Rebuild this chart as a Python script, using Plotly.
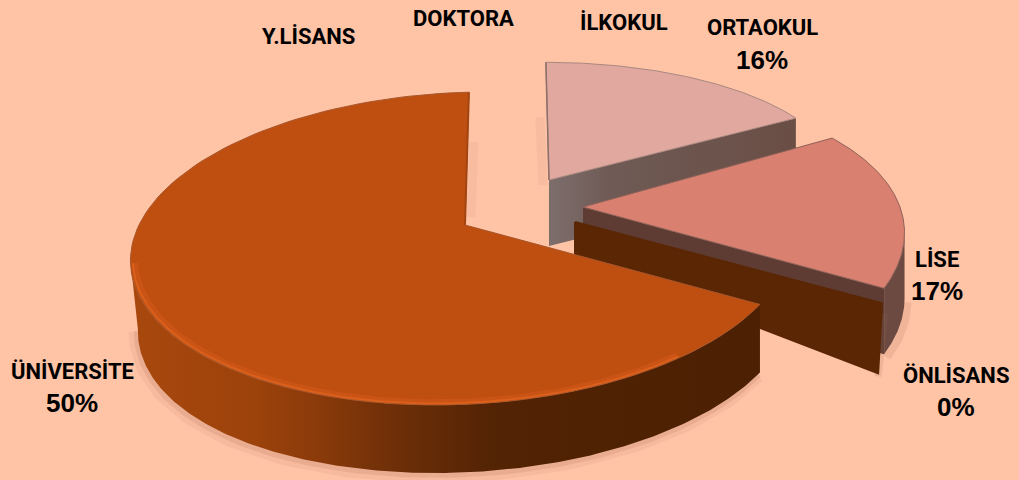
import numpy as np
import plotly.graph_objects as go

# ---- data ----
categories = ["ORTAOKUL", "LİSE", "ÖNLİSANS", "ÜNİVERSİTE", "Y.LİSANS", "DOKTORA", "İLKOKUL"]
printed_percent = ["16%", "17%", "0%", "50%", "", "", ""]
# angular share each slice occupies in the drawing (the big slice is drawn wider than its printed label)
drawn_share = [16, 17, 0, 66, 0, 0, 0]

# ---- style / layout ----
BG = "#FFC3A6"
label_name_xy = {"ORTAOKUL": (762, 27), "LİSE": (937, 259), "ÖNLİSANS": (956, 375),
                 "ÜNİVERSİTE": (72, 371), "Y.LİSANS": (308, 36), "DOKTORA": (463, 18), "İLKOKUL": (624, 22)}
label_pct_xy = {"ORTAOKUL": (762, 60), "LİSE": (937, 291), "ÖNLİSANS": (956, 407), "ÜNİVERSİTE": (72, 403)}
# projection of each exploded slice: apex, x-scale, shear, y-scale, perspective, wall height, wall taper
geom = {
    "ORTAOKUL": dict(ax=549, ay=180, a=288, b=-3, c=113, k=-0.04, h=66, taper=0),
    "LİSE": dict(ax=583, ay=207, a=317, b=32, c=147, k=0.267, h=66, taper=0),
    "ÖNLİSANS": dict(ax=575, ay=222, a=323, b=32, c=147, k=0.267, h=70, taper=0),
    "ÜNİVERSİTE": dict(ax=465, ay=225, a=326, b=25, c=153, k=0.15, h=68, taper=8),
}

# cumulative angles, clockwise from the top
edges = np.concatenate([[0], np.cumsum(drawn_share)]) * 3.6
span = {c: (edges[i], edges[i + 1]) for i, c in enumerate(categories)}


def project(name, theta_deg, r=1.0, dz=0.0):
    g = geom[name]
    t = np.radians(np.asarray(theta_deg, dtype=float))
    X, Y = r * np.sin(t), r * np.cos(t)
    d = 1 + g["k"] * Y
    return g["ax"] + (g["a"] * X + g["b"] * Y) / d, g["ay"] - g["c"] * Y / d + dz


def wall_bottom(name, theta_deg):
    g = geom[name]
    x, y = project(name, theta_deg, dz=g["h"])
    inset = g["taper"] * np.clip(-np.sin(np.radians(np.asarray(theta_deg, dtype=float))), 0, 1) ** 3
    return x + inset, y


def poly(xs, ys, color=None, grad=None, line=None):
    kw = dict(x=list(xs), y=list(ys), mode="lines", fill="toself", hoverinfo="skip",
              showlegend=False, line=dict(width=0, color="rgba(0,0,0,0)"))
    if grad:
        kw["fillgradient"] = dict(type="horizontal", colorscale=grad)
    else:
        kw["fillcolor"] = color
    if line:
        kw["line"] = line
    return go.Scatter(**kw)


def stroke(xs, ys, color, width):
    return go.Scatter(x=list(xs), y=list(ys), mode="lines", hoverinfo="skip", showlegend=False,
                      line=dict(color=color, width=width))


def face(name, th0, th1, fill, edge):
    th = np.linspace(th0, th1, 120)
    x, y = project(name, th)
    g = geom[name]
    return poly(np.r_[g["ax"], x, g["ax"]], np.r_[g["ay"], y, g["ay"]], color=fill,
                line=dict(color=edge, width=1))


def cut_wall(name, th, fill=None, grad=None):
    g = geom[name]
    ex, ey = project(name, th)
    ex, ey = float(ex), float(ey)
    return poly([g["ax"], ex, ex, g["ax"], g["ax"]],
                [g["ay"], ey, ey + g["h"], g["ay"] + g["h"], g["ay"]], color=fill, grad=grad)


def arc_wall(name, th, fill=None, grad=None):
    x, y = project(name, th)
    bx, by = wall_bottom(name, th)
    return poly(np.r_[x, bx[::-1]], np.r_[y, by[::-1]], color=fill, grad=grad)


fig = go.Figure()

# ORTAOKUL
a0, a1 = span["ORTAOKUL"]
g = geom["ORTAOKUL"]
tx, ty = project("ORTAOKUL", a0)
fig.add_trace(stroke([float(tx) - 6, g["ax"] - 6], [float(ty) + 55, g["ay"] + 5], "rgba(150,100,80,0.07)", 9))
fig.add_trace(cut_wall("ORTAOKUL", a1, grad=[[0, "#7D6E6C"], [0.25, "#6F5A55"], [1, "#6A4E45"]]))
fig.add_trace(face("ORTAOKUL", a0, a1, "#E0A89F", "#A98880"))
fig.add_trace(stroke([float(tx), g["ax"]], [float(ty), g["ay"]], "#8C6F68", 1.5))

# LİSE
l0, l1 = span["LİSE"]
th = np.linspace(l0, l1, 120)
ext = th[np.argmax(project("LİSE", th)[0])]
x_sh, y_sh = project("LİSE", np.linspace(ext, l1, 40), dz=geom["LİSE"]["h"])
fig.add_trace(stroke(x_sh + 3, y_sh + 3, "rgba(150,100,80,0.14)", 8))
fig.add_trace(arc_wall("LİSE", np.linspace(ext, l1, 60), fill="#6C4A42"))
fig.add_trace(cut_wall("LİSE", l1, fill="#5E3C33"))
fig.add_trace(face("LİSE", l0, l1, "#D98070", "#8E6258"))

# ÖNLİSANS: a zero-width slice, only its wall shows
o0, _ = span["ÖNLİSANS"]
gx, gy = project("ÖNLİSANS", o0)
go_ = geom["ÖNLİSANS"]
fig.add_trace(stroke([float(gx) + 3, float(gx) - 4], [float(gy) + 10, float(gy) + go_["h"] + 3], "rgba(150,100,80,0.15)", 7))
fig.add_trace(poly([go_["ax"], float(gx), float(gx) - 4, go_["ax"], go_["ax"]],
                   [go_["ay"], float(gy), float(gy) + go_["h"], go_["ay"] + go_["h"] - 35, go_["ay"]],
                   color="#5A2604", line=dict(color="#5A2604", width=2)))

# ÜNİVERSİTE
u0, u1 = span["ÜNİVERSİTE"]
th = np.linspace(u0, u1, 400)
ux, uy = project("ÜNİVERSİTE", th)
left = th[np.argmin(ux)]
wall_th = np.linspace(u0, left, 200)
sx, sy = wall_bottom("ÜNİVERSİTE", wall_th)
fig.add_trace(stroke(sx - 2, sy + 3, "rgba(150,90,70,0.08)", 14))
fig.add_trace(stroke(sx - 1, sy + 2, "rgba(150,90,70,0.14)", 6))
tx2, ty2 = project("ÜNİVERSİTE", u1)
ag = geom["ÜNİVERSİTE"]
fig.add_trace(stroke([float(tx2) + 5, ag["ax"] + 6], [float(ty2) + 50, ag["ay"] - 8], "rgba(150,100,80,0.07)", 9))
fig.add_trace(arc_wall("ÜNİVERSİTE", wall_th,
                       grad=[[0, "#A8480E"], [0.2, "#9C420B"], [0.3, "#8A3A0A"], [0.42, "#6E2F08"],
                             [0.58, "#522304"], [1, "#4C2003"]]))
fig.add_trace(face("ÜNİVERSİTE", u0, u1, "#BF4F10", "#A8562C"))
rim_th = np.linspace(140, left - 1, 150)
rx, ry = project("ÜNİVERSİTE", rim_th, r=0.985)
fig.add_trace(stroke(rx, ry, "rgba(205,85,22,0.8)", 5))
rx, ry = project("ÜNİVERSİTE", rim_th, r=0.993)
fig.add_trace(stroke(rx, ry, "#DB601C", 2))
fig.add_trace(stroke([float(tx2), ag["ax"]], [float(ty2), ag["ay"]], "#A34510", 2))

# labels
for c in categories:
    x, y = label_name_xy[c]
    fig.add_annotation(x=x, y=y, text=f"<b>{c}</b>", showarrow=False, xanchor="center", yanchor="middle",
                       font=dict(family="Roboto", size=22, color="black"))
for c, p in zip(categories, printed_percent):
    if p:
        x, y = label_pct_xy[c]
        fig.add_annotation(x=x, y=y, text=f"<b>{p}</b>", showarrow=False, xanchor="center", yanchor="middle",
                           font=dict(family="Liberation Sans", size=26, color="black"))

fig.update_layout(
    width=1019, height=480, margin=dict(l=0, r=0, t=0, b=0),
    paper_bgcolor=BG, plot_bgcolor=BG, showlegend=False,
    xaxis=dict(range=[0, 1019], visible=False, fixedrange=True),
    yaxis=dict(range=[480, 0], visible=False, fixedrange=True),
)
fig.write_html("out.html", config={"displayModeBar": False},
               post_script="document.documentElement.style.overflow='hidden';"
                           "document.body.style.margin='0';document.body.style.background='" + BG + "';")
